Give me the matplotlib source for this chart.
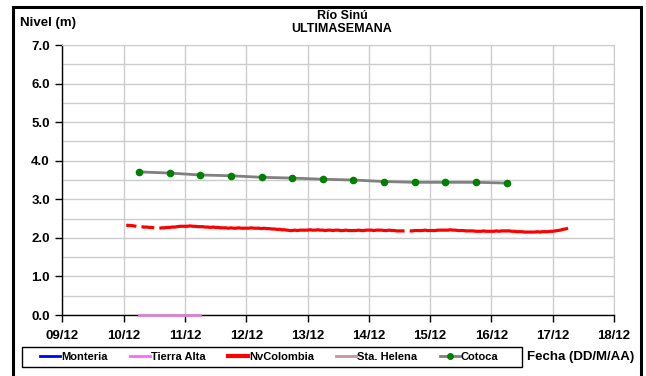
import numpy as np
import pandas as pd
import matplotlib
matplotlib.use("Agg")
import matplotlib.pyplot as plt
import matplotlib.dates as mdates
from matplotlib.lines import Line2D
from matplotlib.patches import Rectangle

plt.rcParams['font.family'] = ['Liberation Sans', 'DejaVu Sans']
plt.rcParams['font.weight'] = 'bold'

nan = np.nan

# Lecturas horarias NvColombia (m), un bloque por dia
nv_1012 = [2.33, 2.32, 2.32, 2.31, 2.30, nan, 2.29, 2.28, 2.28, 2.27, 2.27, 2.26,
           nan, 2.25, 2.26, 2.26, 2.27, 2.27, 2.28, 2.28, 2.29, 2.30, 2.30]
nv_1112 = [2.30, 2.30, 2.31, 2.30, 2.30, 2.29, 2.29, 2.29, 2.28, 2.28, 2.27, 2.28,
           2.27, 2.27, 2.26, 2.26, 2.26, 2.25, 2.26, 2.25, 2.25, 2.26, 2.25, 2.25]
nv_1212 = [2.25, 2.25, 2.26, 2.25, 2.25, 2.25, 2.24, 2.25, 2.24, 2.24, 2.23, 2.23,
           2.22, 2.22, 2.21, 2.21, 2.20, 2.19, 2.19, 2.20, 2.19, 2.20, 2.20, 2.20]
nv_1312 = [2.20, 2.21, 2.20, 2.20, 2.21, 2.20, 2.20, 2.19, 2.20, 2.20, 2.19, 2.20,
           2.20, 2.19, 2.19, 2.20, 2.19, 2.19, 2.19, 2.19, 2.20, 2.19, 2.19, 2.20]
nv_1412 = [2.20, 2.20, 2.19, 2.20, 2.20, 2.20, 2.19, 2.19, 2.20, 2.19, 2.19, 2.18,
           2.18, 2.18, 2.18, nan, 2.18, 2.18, 2.19, 2.19, 2.19, 2.19, 2.20, 2.19]
nv_1512 = [2.19, 2.19, 2.19, 2.20, 2.20, 2.20, 2.20, 2.20, 2.21, 2.20, 2.20, 2.19,
           2.19, 2.19, 2.18, 2.18, 2.18, 2.18, 2.17, 2.17, 2.17, 2.18, 2.17, 2.17]
nv_1612 = [2.17, 2.17, 2.18, 2.17, 2.18, 2.18, 2.18, 2.18, 2.17, 2.17, 2.16, 2.16,
           2.16, 2.15, 2.15, 2.15, 2.15, 2.15, 2.16, 2.15, 2.16, 2.16, 2.16, 2.17]
nv_1712 = [2.17, 2.18, 2.19, 2.20, 2.22, 2.23, 2.25]
nv_colombia = nv_1012 + nv_1112 + nv_1212 + nv_1312 + nv_1412 + nv_1512 + nv_1612 + nv_1712

# Lecturas Cotoca cada 12 h (m)
cotoca = [3.71, 3.68, 3.63, 3.61, 3.57, 3.55, 3.52, 3.50, 3.46, 3.44, 3.44, 3.44, 3.42]

# Tierra Alta reporta cero
tierra_alta = [0.0, 0.0, 0.0]

# Estaciones sin datos en la semana
monteria = []
sta_helena = []

t_nv = pd.date_range('2019-12-10 01:00', periods=len(nv_colombia), freq='h')
t_cotoca = pd.date_range('2019-12-10 06:00', periods=len(cotoca), freq='12h')
t_tierra = pd.date_range('2019-12-10 06:00', periods=len(tierra_alta), freq='12h')

W, H = 646, 376
fig = plt.figure(figsize=(W / 100, H / 100), dpi=100)
ax = fig.add_axes([62.3 / W, 1 - 315 / H, (614 - 62.3) / W, (315 - 45) / H])

c_monteria = '#0000ff'
c_tierra = '#ff66ff'
c_nv = '#ff0000'
c_helena = '#c09898'
c_cotoca = '#808080'

ax.plot(monteria, monteria, color=c_monteria, lw=1.5)
ax.plot(t_tierra, tierra_alta, color='#dd80d0', lw=2, clip_on=False, zorder=5)
ax.plot(t_nv, nv_colombia, color=c_nv, lw=2.3, solid_capstyle='butt', zorder=4)
ax.plot(sta_helena, sta_helena, color=c_helena, lw=1.5)
ax.plot(t_cotoca, cotoca, color=c_cotoca, lw=2, marker='o', ms=4.5,
        mfc='#008000', mec='#008000', zorder=4)

ax.set_xlim(pd.Timestamp('2019-12-09'), pd.Timestamp('2019-12-18'))
ax.set_ylim(0, 7)
ax.xaxis.set_major_locator(mdates.DayLocator())
ax.xaxis.set_major_formatter(mdates.DateFormatter('%d/%m'))
ax.set_yticks(np.arange(0, 7.01, 1.0))
ax.set_yticks(np.arange(0.5, 7, 1.0), minor=True)
ax.yaxis.set_major_formatter(matplotlib.ticker.FormatStrFormatter('%.1f'))

ax.grid(True, which='major', color='#cccccc', lw=1)
ax.grid(True, which='minor', axis='y', color='#cccccc', lw=1)
ax.set_axisbelow(True)
ax.tick_params(which='minor', length=0)
ax.tick_params(which='major', length=5, width=1, color='black', labelsize=9.5, pad=4)
ax.tick_params(axis='x', pad=6)
for lab in ax.get_xticklabels() + ax.get_yticklabels():
    lab.set_fontweight('bold')

for side in ('top', 'right'):
    ax.spines[side].set_color('#cccccc')
for side in ('left', 'bottom'):
    ax.spines[side].set_color('black')
    ax.spines[side].set_linewidth(1)

fig.text(20 / W, 1 - 23 / H, 'Nivel (m)', fontsize=9.5, fontweight='bold', va='center')
fig.text(342 / W, 1 - 16 / H, 'Río Sinú', fontsize=9, fontweight='bold', ha='center', va='center')
fig.text(342 / W, 1 - 29 / H, 'ULTIMASEMANA', fontsize=9, fontweight='bold', ha='center', va='center')

handles = [
    Line2D([], [], color=c_monteria, lw=2),
    Line2D([], [], color=c_tierra, lw=2),
    Line2D([], [], color=c_nv, lw=3),
    Line2D([], [], color=c_helena, lw=2),
    Line2D([], [], color=c_cotoca, lw=2, marker='o', ms=4, mfc='#008000', mec='#008000'),
]
labels = ['Monteria', 'Tierra Alta', 'NvColombia', 'Sta. Helena', 'Cotoca']
fig.legend(handles, labels, loc='center left', bbox_to_anchor=(40 / W, 1 - 357 / H),
           ncol=5, frameon=False, borderaxespad=0, borderpad=0,
           handlelength=1.8, handletextpad=0.1, columnspacing=2.0,
           numpoints=1, prop={'weight': 'bold', 'size': 8})

# recuadro de la leyenda
fig.patches.append(Rectangle((22 / W, 1 - 367 / H), (522 - 22) / W, 20 / H,
                             transform=fig.transFigure, fill=False, edgecolor='black', lw=1))

fig.text(527 / W, 1 - 357 / H, 'Fecha (DD/M/AA)', fontsize=9.5, fontweight='bold', va='center')

# marco exterior del grafico
fig.patches.append(Rectangle((13 / W, -0.05), (641 - 13) / W, 1.05 - 7 / H,
                             transform=fig.transFigure, fill=False, edgecolor='black', lw=2.2))

fig.savefig('out.png', dpi=100)
